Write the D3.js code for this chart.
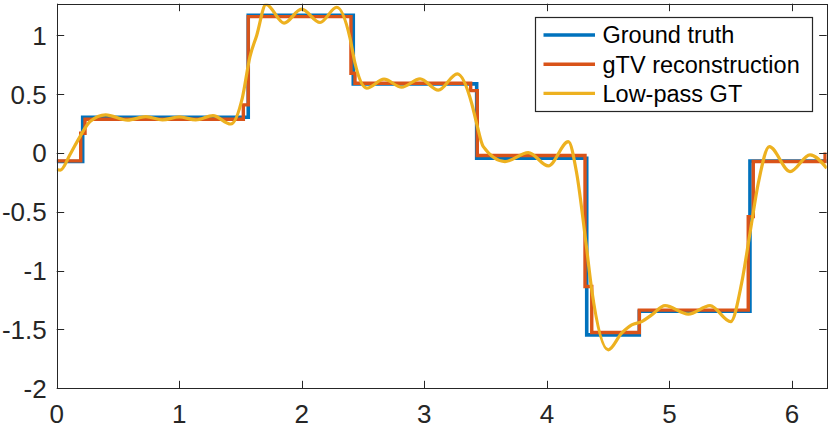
<!DOCTYPE html>
<html>
<head>
<meta charset="utf-8">
<script src="https://cdn.jsdelivr.net/npm/d3@7"></script>
<style>
  body { margin: 0; background: #fff; }
  svg { display: block; }
</style>
</head>
<body>
<div id="graph"></div>
<script>
var width = 830, height = 426;
var margin = { left: 56.7, right: 3.3, top: 3.7, bottom: 37.7 };
var fontFamily = '"Liberation Sans", Arial, Helvetica, sans-serif';
var axisColor = '#262626';

var xTicks = [0, 1, 2, 3, 4, 5, 6];
var yTicks = [-2, -1.5, -1, -0.5, 0, 0.5, 1];
var yTickLabels = ['-2', '-1.5', '-1', '-0.5', '0', '0.5', '1'];
var seriesNames = ['Ground truth', 'gTV reconstruction', 'Low-pass GT'];
var seriesColors = ['#0072BD', '#D95319', '#EDB120'];

// step signals: value holds from x[i] to x[i+1]
var truthX = [0, 0.212, 1.563, 2.42, 3.427, 4.325, 4.754, 5.657, 6.2832];
var truthY = [-0.072, 0.305, 1.172, 0.588, -0.044, -1.546, -1.345, -0.068, -0.068];

var gtvX = [0, 0.196, 0.231, 1.523, 1.563, 2.401, 2.434, 3.378, 3.432, 4.311, 4.366, 4.754, 5.643, 5.684, 6.27, 6.2832];
var gtvY = [-0.066, 0.169, 0.288, 0.41, 1.16, 0.679, 0.594, 0.531, -0.021, -1.135, -1.526, -1.335, -0.54, -0.072, -0.01, -0.01];

// low-pass curve, read at extrema and along the edges
var lowX = [0, 0.03, 0.11, 0.19, 0.272, 0.40, 0.578, 0.727, 0.863, 1.0, 1.135, 1.275, 1.42, 1.515, 1.577, 1.632,
  1.708, 1.855, 1.998, 2.149, 2.285, 2.393, 2.434, 2.53, 2.671, 2.815, 2.965, 3.114, 3.269, 3.386, 3.427, 3.481,
  3.658, 3.848, 4.012, 4.175, 4.243, 4.319, 4.366, 4.501, 4.61, 4.692, 4.774, 4.855, 4.964, 5.154, 5.331, 5.5,
  5.589, 5.657, 5.725, 5.815, 5.984, 6.147, 6.2832];
var lowY = [-0.14, -0.145, -0.01, 0.14, 0.268, 0.325, 0.28, 0.31, 0.282, 0.308, 0.282, 0.318, 0.247, 0.47, 0.82, 1.0,
  1.265, 1.105, 1.224, 1.11, 1.24, 0.98, 0.764, 0.552, 0.628, 0.56, 0.631, 0.535, 0.673, 0.424, 0.25, 0.055,
  -0.072, 0.004, -0.109, 0.098, -0.171, -0.766, -1.163, -1.673, -1.531, -1.461, -1.433, -1.376, -1.297, -1.37, -1.297, -1.433,
  -1.106, -0.681, -0.256, 0.055, -0.157, -0.015, -0.128];

var svg = d3.select('#graph').append('svg')
    .attr('width', width)
    .attr('height', height);

var x = d3.scaleLinear().domain([0, 2 * Math.PI]).range([margin.left, width - margin.right]);
var y = d3.scaleLinear().domain([-2, 1.27]).range([height - margin.bottom, margin.top]);

svg.append('clipPath').attr('id', 'plotclip')
  .append('rect')
    .attr('x', x.range()[0])
    .attr('y', y.range()[1])
    .attr('width', x.range()[1] - x.range()[0])
    .attr('height', y.range()[0] - y.range()[1]);

function zip(xs, ys) {
  return xs.map(function(v, i) { return [v, ys[i]]; });
}

var stepLine = d3.line()
    .x(function(d) { return x(d[0]); })
    .y(function(d) { return y(d[1]); })
    .curve(d3.curveStepAfter);
var smoothLine = d3.line()
    .x(function(d) { return x(d[0]); })
    .y(function(d) { return y(d[1]); })
    .curve(d3.curveMonotoneX);

var plot = svg.append('g').attr('clip-path', 'url(#plotclip)');
plot.append('path')
    .attr('d', stepLine(zip(truthX, truthY)))
    .attr('fill', 'none')
    .attr('stroke', seriesColors[0])
    .attr('stroke-width', 3.6);
plot.append('path')
    .attr('d', stepLine(zip(gtvX, gtvY)))
    .attr('fill', 'none')
    .attr('stroke', seriesColors[1])
    .attr('stroke-width', 3.4);
plot.append('path')
    .attr('d', smoothLine(zip(lowX, lowY)))
    .attr('fill', 'none')
    .attr('stroke', seriesColors[2])
    .attr('stroke-width', 3.2)
    .attr('stroke-linejoin', 'round');

// axes: box with inward ticks on all four sides
var tickLen = 7.5;
var x0 = x.range()[0], x1 = x.range()[1], y0 = y.range()[0], y1 = y.range()[1];
var axes = svg.append('g')
    .attr('stroke', axisColor)
    .attr('stroke-width', 1)
    .attr('fill', 'none');

axes.selectAll('.xt').data(xTicks).enter().append('path')
    .attr('d', function(d) {
      var px = Math.round(x(d)) + 0.5;
      return 'M' + px + ',' + y0 + 'v' + (-tickLen) + 'M' + px + ',' + y1 + 'v' + tickLen;
    });
axes.selectAll('.yt').data(yTicks).enter().append('path')
    .attr('d', function(d) {
      var py = Math.round(y(d)) + 0.5;
      return 'M' + x0 + ',' + py + 'h' + tickLen + 'M' + x1 + ',' + py + 'h' + (-tickLen);
    });
axes.append('rect')
    .attr('x', Math.round(x0) + 0.5)
    .attr('y', Math.round(y1) + 0.5)
    .attr('width', Math.round(x1) - Math.round(x0))
    .attr('height', Math.round(y0) - Math.round(y1));

svg.append('g').selectAll('text').data(xTicks).enter().append('text')
    .attr('x', function(d) { return x(d); })
    .attr('y', y0 + 34.5)
    .attr('text-anchor', 'middle')
    .attr('font-family', fontFamily)
    .attr('font-size', 26)
    .attr('fill', axisColor)
    .text(function(d) { return d; });

svg.append('g').selectAll('text').data(yTicks).enter().append('text')
    .attr('x', x0 - 10)
    .attr('y', function(d) { return y(d); })
    .attr('dy', '0.36em')
    .attr('text-anchor', 'end')
    .attr('font-family', fontFamily)
    .attr('font-size', 26)
    .attr('fill', axisColor)
    .text(function(d, i) { return yTickLabels[i]; });

// legend
var legend = svg.append('g');
legend.append('rect')
    .attr('x', 535.5)
    .attr('y', 17.5)
    .attr('width', 277)
    .attr('height', 94)
    .attr('fill', '#fff')
    .attr('stroke', axisColor)
    .attr('stroke-width', 1.2);
var row = legend.selectAll('.row').data(seriesNames).enter().append('g')
    .attr('transform', function(d, i) { return 'translate(0,' + (35 + i * 29.2) + ')'; });
row.append('line')
    .attr('x1', 543.5).attr('x2', 595)
    .attr('y1', 0).attr('y2', 0)
    .attr('stroke', function(d, i) { return seriesColors[i]; })
    .attr('stroke-width', 3.4);
row.append('text')
    .attr('x', 602.5)
    .attr('y', 0)
    .attr('dy', '0.36em')
    .attr('font-family', fontFamily)
    .attr('font-size', 23.5)
    .attr('fill', '#000')
    .text(function(d) { return d; });
</script>
</body>
</html>
